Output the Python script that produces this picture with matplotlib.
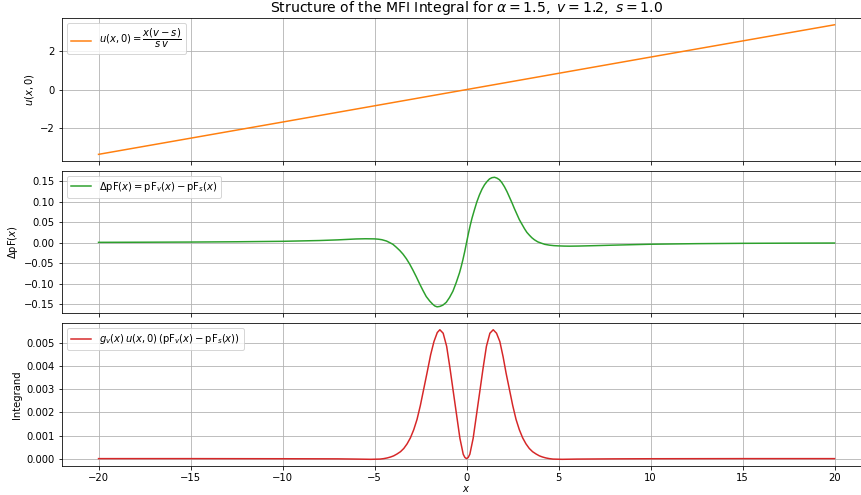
import matplotlib
matplotlib.use("Agg")
from matplotlib import pyplot as plt

# top panel: u(x,0), a straight line
x_u = [-20, -10, 0, 10, 20]
u_vals = [-3.33, -1.67, 0.0, 1.67, 3.33]

# middle panel: delta pF
x_dpf = [-20, -17.5, -15, -12.5, -10, -8, -7, -6, -5.5, -5.0, -4.8, -4.6,
         -4.35, -4.17, -4.0, -3.82, -3.63, -3.45, -3.27, -3.09, -2.91, -2.73,
         -2.55, -2.37, -2.19, -2.0, -1.83, -1.72, -1.6, -1.45, -1.29, -1.1,
         -0.92, -0.74, -0.56, -0.38, -0.3, -0.2, -0.1, 0.0, 0.1, 0.2, 0.3,
         0.43, 0.56, 0.70, 0.84, 0.98, 1.12, 1.25, 1.38, 1.52, 1.65, 1.79,
         1.92, 2.06, 2.20, 2.33, 2.47, 2.60, 2.74, 2.87, 3.01, 3.15, 3.28,
         3.42, 3.55, 3.69, 3.87, 4.05, 4.25, 4.5, 4.75, 5.0, 5.3, 5.6, 6.1, 7,
         8, 10, 12.5, 15, 17.5, 20]
dpf_vals = [0.0008, 0.0011, 0.0015, 0.0022, 0.0033, 0.0052, 0.0068, 0.0090,
            0.0095, 0.0092, 0.0085, 0.0072, 0.0040, 0.0000, -0.004, -0.011,
            -0.019, -0.028, -0.039, -0.052, -0.067, -0.083, -0.100, -0.116,
            -0.131, -0.142, -0.150, -0.154, -0.156, -0.155, -0.152, -0.145,
            -0.133, -0.118, -0.097, -0.073, -0.060, -0.042, -0.022, 0.0, 0.022,
            0.042, 0.060, 0.080, 0.099, 0.116, 0.130, 0.141, 0.149, 0.155,
            0.158, 0.159, 0.157, 0.153, 0.146, 0.136, 0.124, 0.111, 0.097,
            0.083, 0.069, 0.056, 0.045, 0.034, 0.025, 0.018, 0.012, 0.007,
            0.002, -0.001, -0.004, -0.006, -0.0072, -0.0078, -0.0083, -0.0085,
            -0.0082, -0.0072, -0.0060, -0.0038, -0.0024, -0.0016, -0.0012,
            -0.0009]

# bottom panel: integrand
x_int = [-20, -15, -10, -7, -6, -5.2, -4.7, -4.5, -4.31, -4.13, -3.96, -3.78,
         -3.59, -3.41, -3.23, -3.05, -2.87, -2.69, -2.51, -2.33, -2.15, -1.95,
         -1.77, -1.59, -1.45, -1.27, -1.08, -0.90, -0.72, -0.54, -0.36, -0.18,
         -0.09, 0.0, 0.09, 0.18, 0.36, 0.54, 0.72, 0.90, 1.08, 1.27, 1.45,
         1.63, 1.81, 1.99, 2.15, 2.33, 2.51, 2.69, 2.87, 3.05, 3.23, 3.41,
         3.59, 3.78, 3.96, 4.13, 4.31, 4.5, 4.7, 5.2, 6, 8, 10, 15, 20]
int_vals = [0.0, 0.0, -0.000005, -0.00001, -0.00002, -0.00003, -0.00002, 0.0,
            0.00003, 0.00007, 0.00012, 0.0002, 0.0003, 0.00044, 0.00064,
            0.0009, 0.00125, 0.0017, 0.0023, 0.0030, 0.0037, 0.0045, 0.00507,
            0.00546, 0.00558, 0.00543, 0.00486, 0.00392, 0.0029, 0.00189,
            0.00088, 0.00019, 0.00005, 0.0, 0.00005, 0.00019, 0.00088,
            0.00189, 0.0029, 0.00392, 0.00486, 0.00543, 0.00558, 0.00543,
            0.00507, 0.0044, 0.0037, 0.0030, 0.0023, 0.0017, 0.00125, 0.0009,
            0.00064, 0.00044, 0.0003, 0.0002, 0.00012, 0.00007, 0.00003, 0.0,
            -0.00002, -0.00003, -0.00002, -0.00001, -0.000005, 0.0, 0.0]

fig, axes = plt.subplots(3, 1, sharex=True, figsize=(861 / 72, 495 / 72), dpi=72)
fig.subplots_adjust(left=0.0717, right=1.012, top=0.963, bottom=0.059, hspace=0.07)

ax1, ax2, ax3 = axes

ax1.plot(x_u, u_vals, color='C1', label=r'$u(x,0) = \dfrac{x(v-s)}{s\,v}$')
ax1.set_ylabel(r'$u(x,0)$')
ax1.set_title(r'Structure of the MFI Integral for $\alpha=1.5,\ v=1.2,\ s=1.0$',
              fontsize=14)

ax2.plot(x_dpf, dpf_vals, color='C2',
         label=r'$\Delta\mathrm{pF}(x) = \mathrm{pF}_v(x) - \mathrm{pF}_s(x)$')
ax2.set_ylabel(r'$\Delta\mathrm{pF}(x)$')

ax3.plot(x_int, int_vals, color='C3',
         label=r'$g_v(x)\,u(x,0)\,(\mathrm{pF}_v(x) - \mathrm{pF}_s(x))$')
ax3.set_ylabel('Integrand')
ax3.set_xlabel(r'$x$', labelpad=1.5)

for ax in axes:
    ax.grid(True)
    ax.legend(loc='upper left')

fig.savefig('out.png', dpi=72)
